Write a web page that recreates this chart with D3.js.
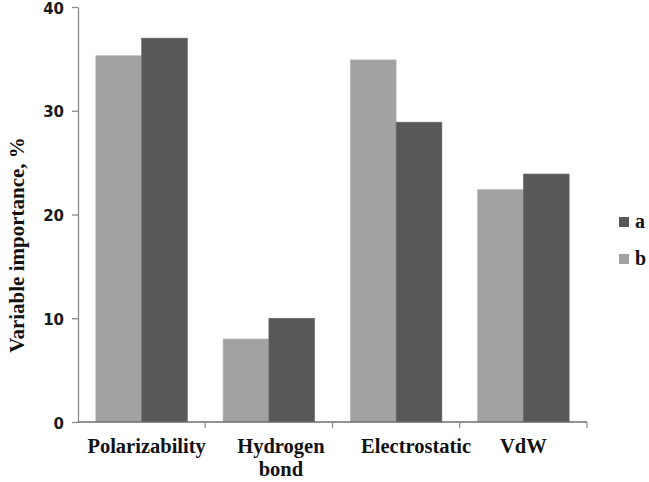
<!DOCTYPE html>
<html>
<head>
<meta charset="utf-8">
<script src="https://cdn.jsdelivr.net/npm/d3@7"></script>
<style>
  body { margin: 0; background: #fff; }
  svg { display: block; }
</style>
</head>
<body>
<div class="chart-container"></div>
<script>
// data
const categories = ['Polarizability', 'Hydrogen bond', 'Electrostatic', 'VdW'];
const seriesNames = ['b', 'a'];
const valuesA = [37, 10, 28.9, 23.9];
const valuesB = [35.3, 8, 34.9, 22.4];
const yTicks = [0, 10, 20, 30, 40];

const colors = { a: '#585858', b: '#a2a2a2' };

const w = 649, h = 482;
const margin = { top: 7, right: 62, bottom: 60, left: 78 };
const width = w - margin.left - margin.right;
const height = h - margin.top - margin.bottom;

const svg = d3.select('.chart-container')
  .append('svg')
  .attr('width', w)
  .attr('height', h);

const chart = svg.append('g')
  .attr('transform', 'translate(' + margin.left + ',' + margin.top + ')');

const x = d3.scaleBand().domain(categories).range([0, width]).paddingInner(0).paddingOuter(0);
const xInner = d3.scaleBand().domain(seriesNames).range([0, x.bandwidth()]).paddingInner(0).paddingOuter(0.39);
const y = d3.scaleLinear().domain([0, 40]).range([height, 0]);

const rows = categories.map((c, i) => ({ name: c, a: valuesA[i], b: valuesB[i] }));

/* bars */
const groups = chart.selectAll('.grp')
  .data(rows)
  .enter()
  .append('g')
  .attr('class', 'grp')
  .attr('transform', d => 'translate(' + x(d.name) + ',0)');

groups.selectAll('rect')
  .data(d => seriesNames.map(k => ({ key: k, value: d[k] })))
  .enter()
  .append('rect')
  .attr('x', d => xInner(d.key))
  .attr('width', xInner.bandwidth())
  .attr('y', d => y(d.value))
  .attr('height', d => y(0) - y(d.value))
  .style('fill', d => colors[d.key])
  .style('stroke', d => d.key === 'a' ? '#6a6a6a' : '#b4b4b4')
  .style('stroke-width', 0.6);

/* y axis */
const yAxis = chart.append('g')
  .call(d3.axisLeft(y).tickValues(yTicks).tickSize(6).tickPadding(8).tickSizeOuter(0));
yAxis.select('.domain').attr('stroke', '#8a8a8a').attr('stroke-width', 1.3);
yAxis.selectAll('line').attr('stroke', '#8a8a8a').attr('stroke-width', 1.3);
yAxis.selectAll('text')
  .attr('dy', '0.4em')
  .style('font-family', 'DejaVu Sans, sans-serif')
  .style('font-weight', 'bold')
  .style('font-size', '15px')
  .attr('fill', '#1a1a1a');

/* x axis line and ticks at band boundaries */
const xAxis = chart.append('g').attr('transform', 'translate(0,' + height + ')');
xAxis.append('line')
  .attr('x1', 0).attr('x2', width)
  .attr('y1', 0).attr('y2', 0)
  .attr('stroke', '#6e6e6e').attr('stroke-width', 1.6);
xAxis.selectAll('.btick')
  .data(categories.slice(1).concat(['end']))
  .enter()
  .append('line')
  .attr('x1', d => d === 'end' ? width : x(d))
  .attr('x2', d => d === 'end' ? width : x(d))
  .attr('y1', 0).attr('y2', 6)
  .attr('stroke', '#8a8a8a').attr('stroke-width', 1.2);

// small nudges like the original's label placement; wrapped labels get one text per line
const labelShift = [5, 12, 20, 0];
const labelLines = [];
categories.forEach((c, i) => {
  const parts = c === 'Hydrogen bond' ? ['Hydrogen', 'bond'] : [c];
  parts.forEach((p, j) => labelLines.push({ cat: c, i: i, line: j, text: p }));
});
xAxis.selectAll('.xlab')
  .data(labelLines)
  .enter()
  .append('text')
  .attr('class', 'xlab')
  .attr('text-anchor', 'middle')
  .attr('x', d => x(d.cat) + x.bandwidth() / 2 + labelShift[d.i])
  .attr('y', d => 31 + d.line * 23)
  .style('font-family', 'Liberation Serif, Times New Roman, serif')
  .style('font-weight', 'bold')
  .style('font-size', '20.5px')
  .attr('fill', '#111')
  .text(d => d.text);

/* y title */
svg.append('text')
  .attr('transform', 'translate(24,' + 245 + ') rotate(-90)')
  .attr('text-anchor', 'middle')
  .style('font-family', 'Liberation Serif, Times New Roman, serif')
  .style('font-weight', 'bold')
  .style('font-size', '21px')
  .attr('fill', '#111')
  .text('Variable importance, %');

/* legend */
const legend = svg.append('g').attr('transform', 'translate(619,217)');
const legendItems = legend.selectAll('.li')
  .data(['a', 'b'])
  .enter()
  .append('g')
  .attr('transform', (d, i) => 'translate(0,' + i * 37 + ')');
legendItems.append('rect')
  .attr('width', 10).attr('height', 10)
  .style('fill', d => colors[d]);
legendItems.append('text')
  .attr('x', 16).attr('y', 11)
  .style('font-family', 'Liberation Serif, Times New Roman, serif')
  .style('font-weight', 'bold')
  .style('font-size', '20px')
  .attr('fill', '#111')
  .text(d => d);
</script>
</body>
</html>
